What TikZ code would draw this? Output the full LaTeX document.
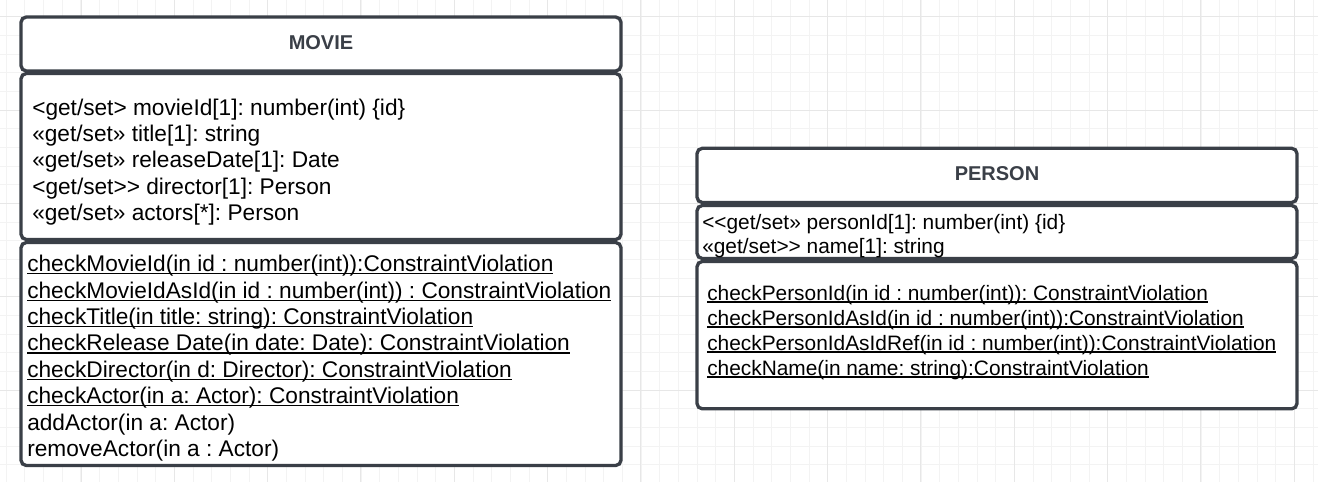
\documentclass[tikz,border=0pt]{standalone}
\usepackage{fontspec}
\setmainfont{Liberation Sans}
\frenchspacing
\definecolor{boxline}{RGB}{58,63,71}
\definecolor{gridminor}{RGB}{243,243,243}
\definecolor{gridmajor}{RGB}{231,231,231}
\newsavebox{\undlbox}
\newcommand{\undl}[1]{\sbox{\undlbox}{#1}\rlap{\rule[-2pt]{\wd\undlbox}{0.9pt}}\usebox{\undlbox}}
\begin{document}
\begin{tikzpicture}[x=0.75pt, y=-0.75pt, part/.style={draw=boxline, line width=2.5pt, rounded corners=4pt, fill=white, inner sep=0pt},
title/.style={inner sep=0pt, text=boxline, font=\bfseries\fontsize{15}{18}\selectfont},
movline/.style={anchor=base west, inner sep=0pt, font=\fontsize{17}{20}\selectfont},
perline/.style={anchor=base west, inner sep=0pt, font=\fontsize{15.65}{18}\selectfont}]
\useasboundingbox (0,0) rectangle (1318,482);
\fill[white] (0,0) rectangle (1318,482);
% background grid
\begin{scope}[line width=0.75pt]
\foreach \i in {0,...,70} \draw[gridminor] ({6.33+18.667*\i},0) -- ({6.33+18.667*\i},482);
\foreach \j in {0,...,25} \draw[gridminor] (0,{16.7+18.667*\j}) -- (1318,{16.7+18.667*\j});
\foreach \i in {0,...,13} \draw[gridmajor] ({81+93.33*\i},0) -- ({81+93.33*\i},482);
\foreach \j in {0,...,5} \draw[gridmajor] (0,{16.7+93.33*\j}) -- (1318,{16.7+93.33*\j});
\end{scope}
\begin{scope}
\node[part, minimum width=450pt, minimum height=40.5pt] (movhead) at (321,44) {};
\node[part, minimum width=450pt, minimum height=124.5pt] (movattr) at (321,156.5) {};
\node[part, minimum width=450pt, minimum height=167.25pt] (movops) at (321,354) {};
\node[part, minimum width=450pt, minimum height=40.65pt] (perhead) at (997,175.4) {};
\node[part, minimum width=450pt, minimum height=39.75pt] (perattr) at (997,232) {};
\node[part, minimum width=450pt, minimum height=110.5pt] (perops) at (997,335.15) {};
\end{scope}
\begin{scope}
\node[title] (movtitle) at (321,42.5) {MOVIE};
\node[title] (pertitle) at (997,173.3) {PERSON};
%movie
\node[movline] (mattr1) at (32,115) {<get/set> movieId[1]: number(int) \{id\}};
\node[movline] (mattr2) at (32,141.4) {«get/set» title[1]: string};
\node[movline] (mattr3) at (32,167.8) {«get/set» releaseDate[1]: Date};
\node[movline] (mattr4) at (32,194.2) {<get/set>\kern0pt> director[1]: Person};
\node[movline] (mattr5) at (32,220.6) {«get/set» actors[*]: Person};
\node[movline] (mop1) at (27,271.7) {\undl{checkMovieId(in id : number(int)):ConstraintViolation}};
\node[movline] (mop2) at (27,298.1) {\undl{checkMovieIdAsId(in id : number(int)) : ConstraintViolation}};
\node[movline] (mop3) at (27,324.5) {\undl{checkTitle(in title: string): ConstraintViolation}};
\node[movline] (mop4) at (27,350.9) {\undl{checkRelease Date(in date: Date): ConstraintViolation}};
\node[movline] (mop5) at (27,377.3) {\undl{checkDirector(in d: Director): ConstraintViolation}};
\node[movline] (mop6) at (27,403.7) {\undl{checkActor(in a: Actor): ConstraintViolation}};
\node[movline] (mop7) at (27,430.1) {addActor(in a: Actor)};
\node[movline] (mop8) at (27,456.5) {removeActor(in a : Actor)};
%person
\node[perline] (pattr1) at (702,229) {<\kern0pt<get/set» personId[1]: number(int) \{id\}};
\node[perline] (pattr2) at (702,253) {«get/set>\kern0pt> name[1]: string};
\node[perline] (pop1) at (707,300) {\undl{checkPersonId(in id : number(int)): ConstraintViolation}};
\node[perline] (pop2) at (707,325) {\undl{checkPersonIdAsId(in id : number(int)):ConstraintViolation}};
\node[perline] (pop3) at (707,350) {\undl{checkPersonIdAsIdRef(in id : number(int)):ConstraintViolation}};
\node[perline] (pop4) at (707,375) {\undl{checkName(in name: string):ConstraintViolation}};
\end{scope}
\end{tikzpicture}
\end{document}
